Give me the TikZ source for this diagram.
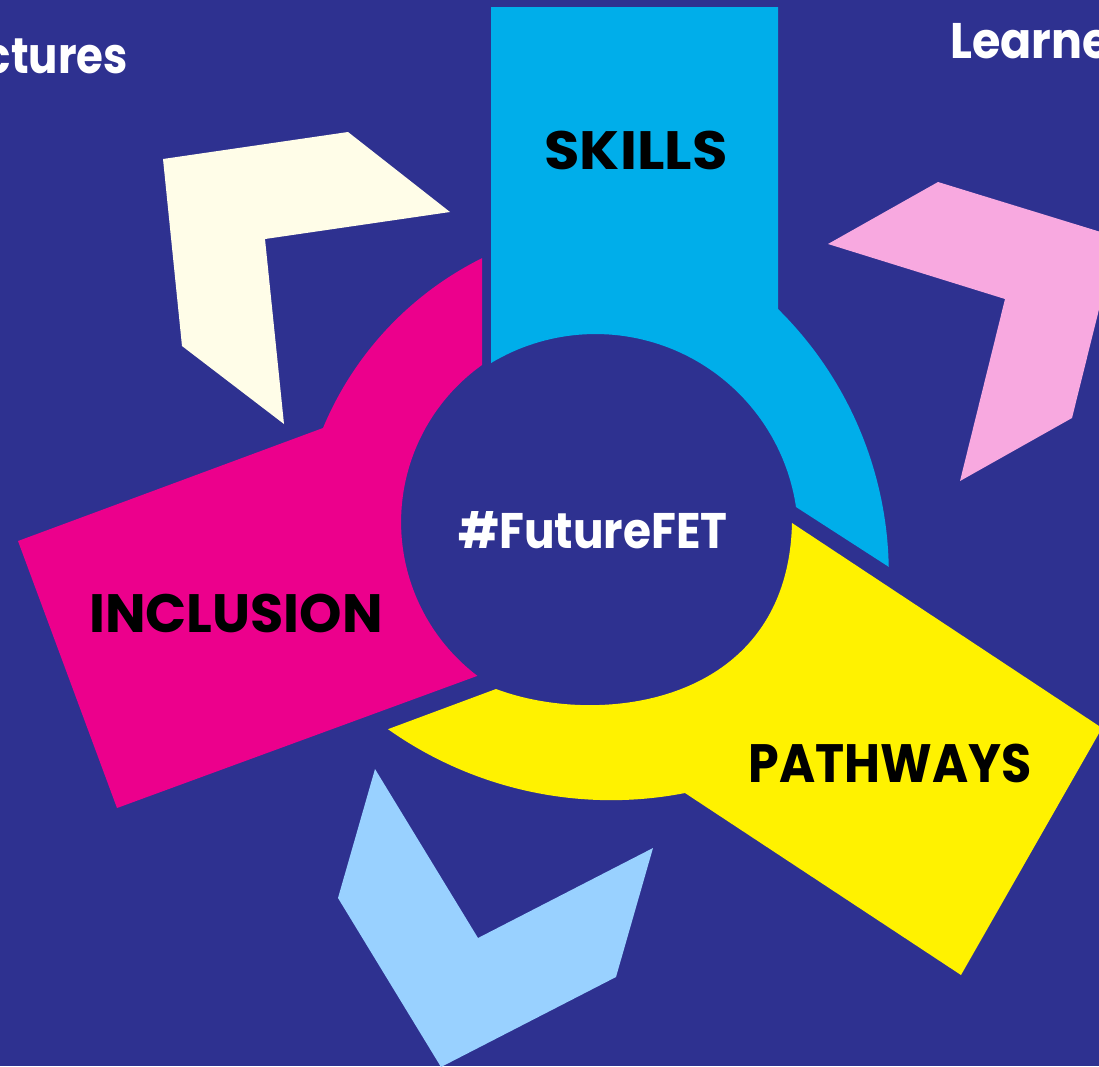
\documentclass[tikz,border=0pt]{standalone}
\usepackage{fontspec}
\setmainfont{Poppins}
\definecolor{bgblue}{HTML}{2E3190}
\definecolor{cyanc}{HTML}{00AEEA}
\definecolor{magc}{HTML}{EC008C}
\definecolor{yelc}{HTML}{FFF200}
\definecolor{creamc}{HTML}{FFFDE8}
\definecolor{lpinkc}{HTML}{F8A9E0}
\definecolor{lbluec}{HTML}{99D1FF}
\tikzset{
  lbl/.style={font=\fontsize{54}{60}\selectfont\bfseries, text=black, inner sep=0pt},
  wlbl/.style={font=\fontsize{50}{56}\selectfont\bfseries, text=white, inner sep=0pt}
}
\begin{document}
\begin{tikzpicture}[x=1pt,y=-1pt]
\fill[bgblue] (0,0) rectangle (1099,1066);
\useasboundingbox (0,0) rectangle (1099,1066);
\begin{scope}
\clip (0,0) rectangle (1099,1066);
% chevrons
\fill[creamc] (163,159) -- (348,132) -- (450,212) -- (265,239) -- (284,424) -- (182,346) -- cycle;
\fill[lpinkc] (828,244) -- (938,182) -- (1117,237) -- (1072,418) -- (960,481) -- (1005,299) -- cycle;
\fill[lbluec] (375,769) -- (478,938) -- (653,848) -- (616,977) -- (441,1067) -- (338,898) -- cycle;
% cyan SKILLS
\fill[cyanc] (491,7) -- (778,7) -- (778,309)
  arc[start angle=-45.4, end angle=-1.08, radius=372]
  -- (796,507)
  arc[start angle=-8.43, end angle=-121.03, radius=202.7]
  -- cycle;
% magenta INCLUSION
\fill[magc] (482,258) -- (482,365)
  arc[start angle=-125.5, end angle=-232.8, radius=193]
  -- (117,808) -- (18,541) -- (323,428)
  arc[start angle=-157.36, end angle=-116.41, radius=332.6]
  -- cycle;
% yellow PATHWAYS
\fill[yelc] (792,523) -- (1102,728) -- (961,975) -- (685,793)
  arc[start angle=78.95, end angle=125.3, radius=386]
  -- (496,689) .. controls (600,728) and (788,705) .. (792,523)
  -- cycle;
\end{scope}
% labels
\node[lbl] (skills) at (636,150) {\scalebox{1.066}[1]{SKILLS}};
\node[lbl] (incl) at (236,613) {INCLUSION};
\node[lbl] (path) at (890,763) {\scalebox{0.91}[1]{PATHWAYS}};
\node[wlbl] (fut) at (593,530) {\scalebox{0.908}[1]{\#FutureFET}};
\node[wlbl, anchor=base east] (ctr) at (128,73) {\scalebox{0.87}[1]{ctures}};
\node[wlbl, anchor=base west] (lrn) at (950,58) {\scalebox{0.92}[1]{Learne}};
\end{tikzpicture}
\end{document}
